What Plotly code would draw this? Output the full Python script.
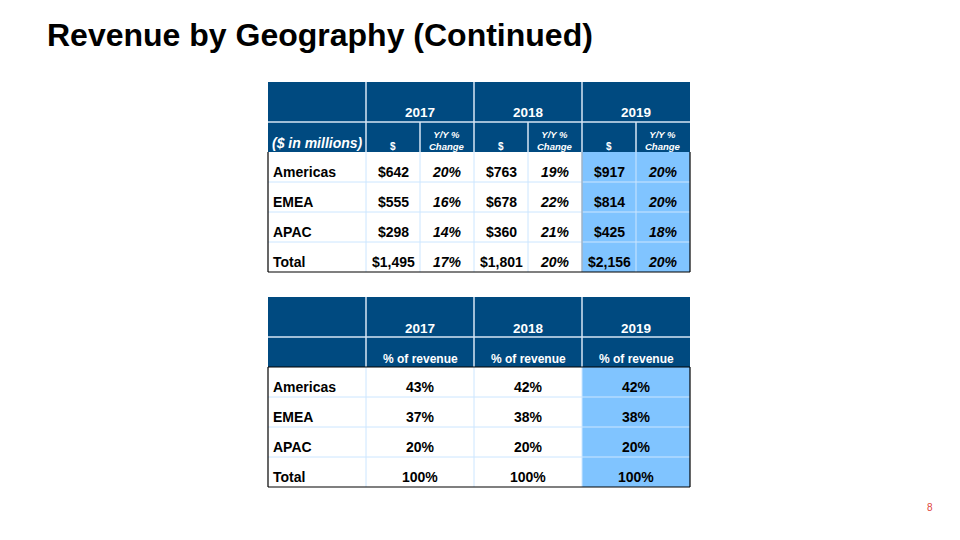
import plotly.graph_objects as go

# ---------------- data ----------------
title = "Revenue by Geography (Continued)"
page_number = "8"
regions = ["Americas", "EMEA", "APAC", "Total"]
years = ["2017", "2018", "2019"]
rev_2017 = [642, 555, 298, 1495]
rev_2018 = [763, 678, 360, 1801]
rev_2019 = [917, 814, 425, 2156]
yoy_2017 = [20, 16, 14, 17]
yoy_2018 = [19, 22, 21, 20]
yoy_2019 = [20, 20, 18, 20]
share_2017 = [43, 37, 20, 100]
share_2018 = [42, 38, 20, 100]
share_2019 = [42, 38, 20, 100]
units_label = "($ in millions)"
dollar_label = "$"
yoy_label = "Y/Y %<br>Change"
share_label = "% of revenue"

revenue = [rev_2017, rev_2018, rev_2019]
yoy = [yoy_2017, yoy_2018, yoy_2019]
share = [share_2017, share_2018, share_2019]

# ---------------- style ----------------
FONT = "Liberation Sans, Arial, sans-serif"
HDR = "#004A80"
HILITE = "#80C4FF"
GRID = "#CCE6FF"
HDR_LINE = "#D6E6F5"
BLACK = "#000000"

shapes = []
annotations = []


def rect(x0, y0, x1, y1, fill):
    shapes.append(dict(type="rect", xref="x", yref="y", x0=x0, y0=y0, x1=x1, y1=y1,
                       fillcolor=fill, line=dict(width=0), layer="below"))


def line(x0, y0, x1, y1, color, width=1):
    shapes.append(dict(type="line", xref="x", yref="y", x0=x0, y0=y0, x1=x1, y1=y1,
                       line=dict(color=color, width=width)))


def text(x, y, s, size, color=BLACK, bold=True, italic=False, align="center"):
    if bold:
        s = "<b>" + s + "</b>"
    if italic:
        s = "<i>" + s + "</i>"
    annotations.append(dict(xref="x", yref="y", x=x, y=y, text=s, showarrow=False,
                            xanchor=align, yanchor="middle",
                            font=dict(family=FONT, size=size, color=color)))


# ---------------- table 1 ----------------
c1 = [268, 366, 420, 474, 528, 582, 636, 690]
r1 = [82, 122, 152, 182, 212, 242, 272]

rect(c1[0], r1[0], c1[-1], r1[2], HDR)
rect(c1[5], r1[2], c1[7], r1[-1], HILITE)
for y in r1[3:-1]:
    line(c1[0], y, c1[-1], y, GRID)
for x in c1[1:-1]:
    line(x, r1[2], x, r1[-1], GRID)
line(c1[5], r1[2], c1[5], r1[-1], "#8A9AAA")
# header separators
line(c1[0], r1[1], c1[-1], r1[1], HDR_LINE, 1.5)
for x in (c1[1], c1[3], c1[5]):
    line(x, r1[0], x, r1[2], HDR_LINE, 1.5)
for x in (c1[2], c1[4], c1[6]):
    line(x, r1[1], x, r1[2], HDR_LINE, 1.5)
# outer border of body
line(c1[0], r1[2], c1[0], r1[-1], BLACK, 1.2)
line(c1[-1], r1[2], c1[-1], r1[-1], BLACK, 1.2)
line(c1[0], r1[-1], c1[-1], r1[-1], BLACK, 1.2)

for i, yr in enumerate(years):
    xa, xb = c1[1 + 2 * i], c1[3 + 2 * i]
    text((xa + xb) / 2, 112, yr, 13.5, "white")
    text((c1[1 + 2 * i] + c1[2 + 2 * i]) / 2, 146, dollar_label, 10, "white")
    text((c1[2 + 2 * i] + c1[3 + 2 * i]) / 2, 140, yoy_label, 9.5, "white", italic=True)
text(c1[0] + 2, 143, units_label, 14, "white", italic=True, align="left")

for j, reg in enumerate(regions):
    yc = (r1[2 + j] + r1[3 + j]) / 2 + 5
    text(c1[0] + 2.5, yc, reg, 14, align="left")
    for i in range(3):
        text((c1[1 + 2 * i] + c1[2 + 2 * i]) / 2, yc, "${:,}".format(revenue[i][j]), 14)
        text((c1[2 + 2 * i] + c1[3 + 2 * i]) / 2, yc, "{}%".format(yoy[i][j]), 14, italic=True)

# ---------------- table 2 ----------------
c2 = [268, 366, 474, 582, 690]
r2 = [297, 337, 367, 397, 427, 457, 487]

rect(c2[0], r2[0], c2[-1], r2[2], HDR)
rect(c2[3], r2[2], c2[4], r2[-1], HILITE)
for y in r2[3:-1]:
    line(c2[0], y, c2[-1], y, GRID)
for x in c2[1:-1]:
    line(x, r2[2], x, r2[-1], GRID)
line(c2[0], r2[1], c2[-1], r2[1], HDR_LINE, 1.5)
for x in c2[1:-1]:
    line(x, r2[0], x, r2[2], HDR_LINE, 1.5)
line(c2[0], r2[2], c2[0], r2[-1], BLACK, 1.2)
line(c2[-1], r2[2], c2[-1], r2[-1], BLACK, 1.2)
line(c2[0], r2[-1], c2[-1], r2[-1], BLACK, 1.2)
line(c2[0], r2[2], c2[-1], r2[2], BLACK, 1.2)

for i, yr in enumerate(years):
    xm = (c2[1 + i] + c2[2 + i]) / 2
    text(xm, 328, yr, 13.5, "white")
    text(xm, 359, share_label, 12, "white")

for j, reg in enumerate(regions):
    yc = (r2[2 + j] + r2[3 + j]) / 2 + 5
    text(c2[0] + 3, yc, reg, 14, align="left")
    for i in range(3):
        text((c2[1 + i] + c2[2 + i]) / 2, yc, "{}%".format(share[i][j]), 14)

# ---------------- title / page ----------------
text(45, 35, title, 32, align="left")
text(930, 507, page_number, 10, color="#E0463C", bold=False)

fig = go.Figure()
fig.add_trace(go.Scatter(x=[0, 960], y=[0, 540], mode="markers",
                         marker=dict(opacity=0), hoverinfo="skip", showlegend=False))
fig.update_layout(
    width=960, height=540,
    margin=dict(l=0, r=0, t=0, b=0),
    paper_bgcolor="white", plot_bgcolor="white",
    xaxis=dict(range=[0, 960], visible=False, fixedrange=True),
    yaxis=dict(range=[540, 0], visible=False, fixedrange=True),
    shapes=shapes, annotations=annotations, showlegend=False,
)
fig.write_html(
    "out.html",
    config={"displayModeBar": False},
    post_script="document.body.style.margin='0px';document.body.style.overflow='hidden';",
)
